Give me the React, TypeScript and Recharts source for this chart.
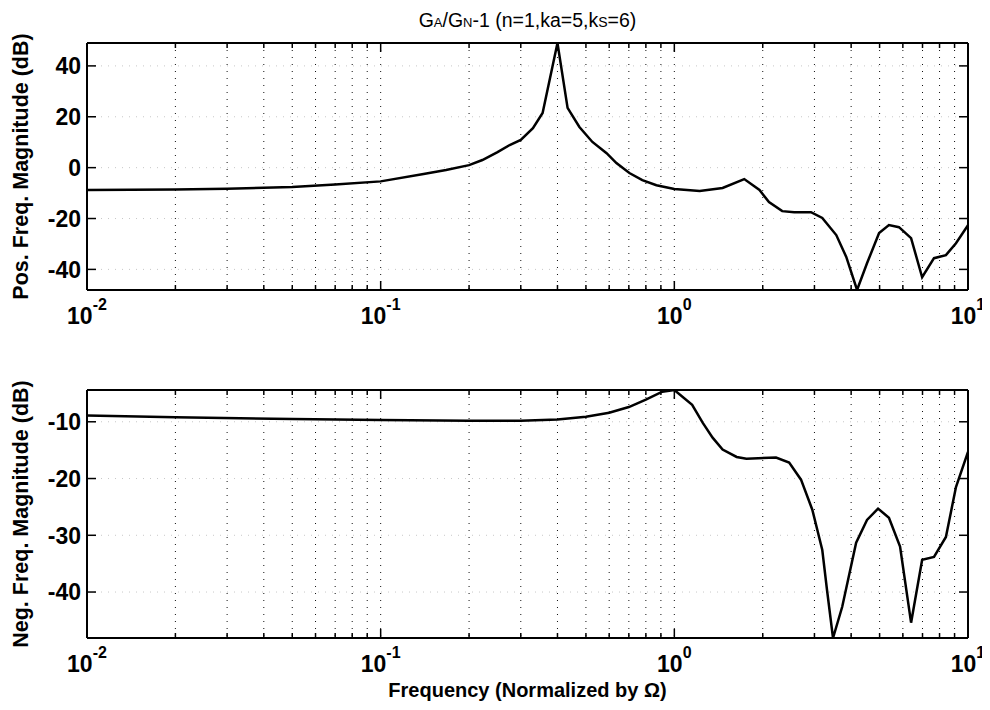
import { LineChart, Line, XAxis, YAxis, CartesianGrid, Label } from 'recharts'

const posFreq = [
  0.01, 0.02, 0.03, 0.05, 0.07, 0.1, 0.14, 0.167, 0.2, 0.222, 0.25, 0.275, 0.3, 0.33, 0.356, 0.4, 0.433,
  0.475, 0.526, 0.588, 0.635, 0.703, 0.778, 0.869, 1.0, 1.22, 1.46, 1.73, 1.95, 2.1, 2.33, 2.56, 2.92,
  3.19, 3.56, 3.85, 4.19, 4.53, 4.98, 5.38, 5.82, 6.4, 6.98, 7.66, 8.41, 9.1, 10,
]
const posDb = [
  -8.8, -8.6, -8.3, -7.6, -6.6, -5.4, -2.5, -0.9, 1.0, 3.0, 6.1, 8.9, 10.9, 15.5, 21.5, 49, 23.5,
  16.0, 10.1, 5.7, 1.8, -2.1, -4.9, -6.9, -8.4, -9.2, -8.0, -4.5, -8.8, -13.5, -17.1, -17.5, -17.5,
  -19.8, -26.5, -35.1, -48.1, -37.6, -25.7, -22.6, -23.4, -27.7, -43.1, -35.6, -34.4, -29.7, -22.6,
]

const negFreq = [
  0.01, 0.02, 0.05, 0.1, 0.2, 0.3, 0.4, 0.5, 0.6, 0.7, 0.8, 0.91, 1.0, 1.15, 1.25, 1.35, 1.46,
  1.63, 1.76, 2.22, 2.46, 2.7, 2.95, 3.19, 3.31, 3.47, 3.73, 4.16, 4.53, 4.94, 5.38, 5.87, 6.4,
  6.98, 7.66, 8.41, 9.1, 10,
]
const negDb = [
  -8.9, -9.2, -9.5, -9.7, -9.8, -9.8, -9.6, -9.1, -8.4, -7.4, -6.1, -4.7, -4.4, -7.0, -10.2, -12.8, -14.9,
  -16.2, -16.5, -16.3, -17.2, -20.2, -25.5, -32.6, -39.6, -48.1, -42.6, -31.3, -27.3, -25.3, -26.9, -32.0, -45.4,
  -34.3, -33.8, -30.3, -21.5, -15.3,
]

// log axis: grid + ticks at every 1..9 of each decade, labels on decades only
const xTicks = [
  0.01, 0.02, 0.03, 0.04, 0.05, 0.06, 0.07, 0.08, 0.09,
  0.1, 0.2, 0.3, 0.4, 0.5, 0.6, 0.7, 0.8, 0.9,
  1, 2, 3, 4, 5, 6, 7, 8, 9, 10,
]
const decadeLabels: Record<number, string> = { 0.01: '-2', 0.1: '-1', 1: '0', 10: '1' }

const posTicks = [-40, -20, 0, 20, 40]
const negTicks = [-40, -30, -20, -10]

const FONT = '"Liberation Sans", Arial, Helvetica, sans-serif'

const posRows = posFreq.map((f, i) => ({ f, db: posDb[i] }))
const negRows = negFreq.map((f, i) => ({ f, db: negDb[i] }))

function BottomTick(props: any) {
  const { x, y, payload } = props
  const exp = decadeLabels[payload.value]
  const major = exp !== undefined
  return (
    <g>
      <line x1={x} y1={y} x2={x} y2={y - (major ? 9 : 5)} stroke="#000" strokeWidth={1.5} />
      {major && (
        <text x={x} y={y + 34} textAnchor="middle" fontSize={23} fontWeight="bold" fontFamily={FONT} fill="#000">
          10<tspan dy={-14} fontSize={16}>{exp}</tspan>
        </text>
      )}
    </g>
  )
}

function TopTick(props: any) {
  const { x, y, payload } = props
  const major = decadeLabels[payload.value] !== undefined
  return <line x1={x} y1={y} x2={x} y2={y + (major ? 9 : 5)} stroke="#000" strokeWidth={1.5} />
}

function LeftTick(props: any) {
  const { x, y, payload } = props
  return (
    <g>
      <line x1={x} y1={y} x2={x + 9} y2={y} stroke="#000" strokeWidth={1.5} />
      <text x={x - 6} y={y} dy="0.36em" textAnchor="end" fontSize={23} fontWeight="bold" fontFamily={FONT} fill="#000">
        {payload.value}
      </text>
    </g>
  )
}

function RightTick(props: any) {
  const { x, y } = props
  return <line x1={x - 9} y1={y} x2={x} y2={y} stroke="#000" strokeWidth={1.5} />
}

const yTitle = (text: string) => (props: any) => {
  const vb = props.viewBox
  const cy = vb.y + vb.height / 2
  return (
    <text x={13} y={cy} transform={`rotate(-90 13 ${cy})`} textAnchor="middle" dominantBaseline="central"
      fontSize={21.5} fontWeight="bold" fontFamily={FONT} fill="#000">
      {text}
    </text>
  )
}

const xTitle = (props: any) => {
  const vb = props.viewBox
  return (
    <text x={vb.x + vb.width / 2} y={vb.y + 52} textAnchor="middle" dominantBaseline="central"
      fontSize={20} fontWeight="bold" fontFamily={FONT} fill="#000">
      Frequency (Normalized by Ω)
    </text>
  )
}

type PanelProps = {
  rows: { f: number; db: number }[]
  yDomain: [number, number]
  yTicks: number[]
  yLabel: string
  height: number
  bottomAxis: number
  withTitle?: boolean
}

function Panel({ rows, yDomain, yTicks, yLabel, height, bottomAxis, withTitle }: PanelProps) {
  const axisLine = { stroke: '#000', strokeWidth: 2 }
  return (
    <LineChart width={982} height={height} data={rows} margin={{ top: 34, right: 18, bottom: 0, left: 19 }}>
      <CartesianGrid horizontal={false} stroke="#111" strokeDasharray="1 6" />
      <CartesianGrid vertical={false} stroke="#c8c8c8" strokeDasharray="1 6" />
      <XAxis dataKey="f" type="number" scale="log" domain={[0.01, 10]} allowDataOverflow ticks={xTicks}
        interval={0} height={bottomAxis} tickSize={0} tickMargin={0} axisLine={axisLine} tickLine={false}
        tick={<BottomTick />}>
        {withTitle && <Label content={xTitle} />}
      </XAxis>
      <XAxis xAxisId="top" orientation="top" dataKey="f" type="number" scale="log" domain={[0.01, 10]}
        allowDataOverflow ticks={xTicks} interval={0} height={1} tickSize={0} tickMargin={0}
        axisLine={axisLine} tickLine={false} tick={<TopTick />} />
      <YAxis type="number" domain={yDomain} allowDataOverflow ticks={yTicks} interval={0} width={60}
        tickSize={0} tickMargin={0} axisLine={axisLine} tickLine={false} tick={<LeftTick />}>
        <Label content={yTitle(yLabel)} />
      </YAxis>
      <YAxis yAxisId="right" orientation="right" type="number" domain={yDomain} allowDataOverflow
        ticks={yTicks} interval={0} width={4} tickSize={0} tickMargin={0} axisLine={axisLine}
        tickLine={false} tick={<RightTick />} />
      <Line type="linear" dataKey="db" stroke="#000" strokeWidth={2.5} dot={false} isAnimationActive={false} />
    </LineChart>
  )
}

export default function App() {
  return (
    <div style={{ position: 'relative', width: 982, height: 694, background: '#fff', fontFamily: FONT }}>
      <div style={{ position: 'absolute', top: 0, left: 79, width: 881, height: 24, lineHeight: '24px',
        textAlign: 'center', fontSize: 19.5, color: '#000' }}>
        G<span style={{ fontSize: 13 }}>A</span>/G<span style={{ fontSize: 13 }}>N</span>-1 (n=1,ka=5,k
        <span style={{ fontVariant: 'small-caps' }}>s</span>=6)
      </div>
      <div style={{ position: 'absolute', top: 0, left: 0 }}>
        <Panel rows={posRows} yDomain={[-48.1, 49]} yTicks={posTicks} yLabel="Pos. Freq. Magnitude (dB)"
          height={340} bottomAxis={58} />
      </div>
      <div style={{ position: 'absolute', top: 347, left: 0 }}>
        <Panel rows={negRows} yDomain={[-48.1, -4.4]} yTicks={negTicks} yLabel="Neg. Freq. Magnitude (dB)"
          height={347} bottomAxis={64} withTitle />
      </div>
    </div>
  )
}
